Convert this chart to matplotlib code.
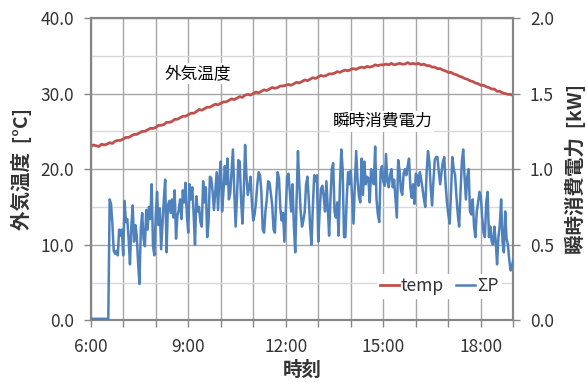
import numpy as np
import matplotlib
matplotlib.use("Agg")
import matplotlib.pyplot as plt
from matplotlib.ticker import MultipleLocator, FuncFormatter

plt.rcParams['font.family'] = ['Noto Sans CJK JP', 'DejaVu Sans']

# outdoor temperature, every 5 min from 6:00 to 19:00 [degC]
temp_c = [
    23.0, 23.2, 23.1, 23.0, 23.3, 23.2, 23.3, 23.5, 23.4, 23.7, 23.8, 23.8,
    24.0, 24.2, 24.2, 24.4, 24.6, 24.6, 24.8, 25.0, 25.0, 25.2, 25.4, 25.4,
    25.5, 25.8, 25.8, 25.9, 26.2, 26.2, 26.3, 26.6, 26.6, 26.8, 27.0, 27.0,
    27.2, 27.4, 27.4, 27.6, 27.9, 27.8, 28.0, 28.2, 28.2, 28.4, 28.6, 28.5,
    28.7, 28.9, 28.9, 29.1, 29.3, 29.2, 29.4, 29.6, 29.5, 29.8, 29.9, 29.8,
    30.0, 30.2, 30.1, 30.3, 30.5, 30.4, 30.6, 30.8, 30.7, 30.8, 31.0, 31.0,
    31.1, 31.2, 31.1, 31.3, 31.5, 31.4, 31.6, 31.8, 31.7, 31.9, 32.1, 32.0,
    32.2, 32.4, 32.3, 32.4, 32.6, 32.6, 32.7, 32.9, 32.8, 33.0, 33.1, 33.0,
    33.2, 33.3, 33.2, 33.4, 33.5, 33.4, 33.6, 33.5, 33.6, 33.8, 33.7, 33.8,
    33.8, 33.9, 33.8, 34.0, 33.8, 33.9, 34.0, 33.9, 33.9, 34.1, 33.9, 34.0,
    33.9, 34.0, 33.8, 33.9, 33.7, 33.7, 33.5, 33.5, 33.3, 33.3, 33.1, 33.0,
    32.8, 32.8, 32.6, 32.5, 32.3, 32.2, 32.0, 31.9, 31.7, 31.6, 31.4, 31.3,
    31.1, 31.1, 30.9, 30.8, 30.6, 30.6, 30.3, 30.3, 30.1, 30.0, 29.9, 29.9,
    29.7,
]

# instantaneous power, every 2.5 min from 6:00 to 19:00 [kW]
power_kw = [
    0.01, 0.01, 0.01, 0.01, 0.01, 0.01, 0.01, 0.01, 0.01, 0.01, 0.01, 0.01, 0.01, 0.01,
    0.80, 0.77, 0.64, 0.46, 0.44, 0.46, 0.43, 0.60, 0.56, 0.60,
    0.43, 0.79, 0.65, 0.67, 0.54, 0.37, 0.62, 0.76, 0.52, 0.63,
    0.56, 0.38, 0.24, 0.60, 0.71, 0.54, 0.49, 0.73, 0.60, 0.75,
    0.67, 0.90, 0.49, 0.43, 0.69, 0.85, 0.63, 0.74, 0.47, 0.63,
    0.80, 0.93, 0.45, 0.76, 0.79, 0.71, 0.80, 0.68, 0.86, 0.54,
    0.69, 0.73, 0.80, 0.67, 0.86, 0.78,
    0.91, 0.70, 0.58, 0.90, 0.80, 0.88, 0.70, 0.50, 0.82, 0.72,
    0.75, 0.65, 0.62, 0.92, 0.78, 0.88, 0.55, 0.65, 0.95, 0.94,
    0.85, 0.73, 0.86, 0.98, 0.73, 0.95, 1.05, 0.72, 0.85, 1.02,
    0.90, 1.07, 0.80, 0.84, 0.98, 1.13, 0.85, 0.62, 0.82, 1.06,
    1.05, 0.80, 0.64, 0.85, 1.16, 0.95, 0.83, 0.88, 0.95, 0.78,
    0.66, 0.70, 0.78, 0.90, 0.98, 0.96, 0.85, 0.60,
    0.58, 0.72, 0.80, 0.92, 0.91, 0.84, 0.76, 0.60, 0.58, 0.82,
    0.98, 0.94, 0.74, 0.66, 0.71, 0.52, 0.72, 0.95, 0.97, 0.85,
    0.72, 0.90, 0.62, 0.45, 0.80, 1.12, 0.90, 0.72, 0.62, 0.66,
    0.72, 0.90, 0.95, 0.80, 0.62, 0.50, 0.75, 0.96, 0.92, 0.96,
    0.52, 0.72, 0.87, 0.89, 0.82, 0.72, 0.92, 0.75, 0.56, 0.80,
    1.00, 1.04, 0.72, 0.68, 0.78, 0.56, 0.90, 1.13, 1.00,
    0.55, 0.55, 0.80, 0.98, 0.90, 0.99, 0.82, 0.64, 0.90, 1.12,
    0.93, 0.82, 0.78, 1.07, 0.83, 1.05, 0.90, 0.95, 0.94, 0.78,
    1.00, 0.92, 0.90, 1.15, 0.80, 0.70, 0.65, 0.98, 1.02, 0.92,
    0.89, 1.10, 0.92, 0.88, 0.96, 1.00, 0.88, 0.93, 0.80, 0.68,
    1.06, 0.99, 0.86, 0.83, 0.97, 1.00, 0.96, 1.02, 1.07, 0.88,
    0.81, 0.90, 0.77, 0.97, 0.96, 0.89, 0.98, 0.93, 0.87,
    0.80, 0.75, 0.98, 1.12, 1.05, 0.88, 0.76, 0.92, 1.06, 1.08,
    1.08, 0.98, 0.90, 0.98, 1.05, 1.08, 0.90, 0.78, 0.70, 0.64,
    0.85, 1.08, 1.00, 0.96, 0.82, 0.70, 0.62, 0.85, 1.05, 1.13,
    0.95, 0.80, 0.95, 1.00, 0.72, 0.70, 0.80, 0.62, 0.55, 0.72,
    0.78, 0.85, 0.82, 0.68, 0.58, 0.55, 0.78, 0.85, 0.55, 0.62,
    0.52, 0.50, 0.62, 0.52, 0.37, 0.55, 0.63, 0.80, 0.52, 0.45,
    0.72, 0.54, 0.50, 0.40, 0.33, 0.36, 0.40,
]

t_temp = 6 + np.arange(len(temp_c)) * 5 / 60
t_power = 6 + np.arange(len(power_kw)) * 2.5 / 60

RED = '#C0504D'
BLUE = '#4F81BD'
TXT = '#333333'

fig = plt.figure(figsize=(5.87, 3.83), dpi=100)
ax = fig.add_axes([0.1545, 0.1637, 0.72, 0.7893])
ax2 = ax.twinx()

l1, = ax.plot(t_temp, temp_c, color=RED, lw=2.0, label='temp', zorder=3)
l2, = ax2.plot(t_power, power_kw, color=BLUE, lw=1.8, label='ΣP', zorder=3)

ax.set_xlim(6, 19)
ax.set_ylim(0, 40)
ax2.set_ylim(0, 2.0)

ax.xaxis.set_major_locator(MultipleLocator(3))
ax.xaxis.set_minor_locator(MultipleLocator(1))
ax.xaxis.set_major_formatter(FuncFormatter(lambda v, p: '%d:00' % round(v)))
ax.yaxis.set_major_locator(MultipleLocator(10))
ax.yaxis.set_minor_locator(MultipleLocator(5))
ax.yaxis.set_major_formatter(FuncFormatter(lambda v, p: '%.1f' % v))
ax2.yaxis.set_major_locator(MultipleLocator(0.5))
ax2.yaxis.set_major_formatter(FuncFormatter(lambda v, p: '%.1f' % v))

ax.grid(which='major', axis='both', color='#a6a6a6', lw=1.0)
ax.grid(which='minor', axis='x', color='#a6a6a6', lw=1.0)
ax.grid(which='minor', axis='y', color='#d9d9d9', lw=1.0)
ax.set_axisbelow(True)

for a in (ax, ax2):
    for s in a.spines.values():
        s.set_color('#868686')
        s.set_linewidth(1.5)
    a.tick_params(which='both', direction='out', length=5, width=1,
                  color='#868686', labelsize=12.5, labelcolor=TXT, pad=7)
ax.tick_params(axis='y', which='minor', length=0)
ax.tick_params(axis='x', pad=8)

ax.set_xlabel('時刻', fontsize=14, fontweight='bold', color=TXT, labelpad=3)
ax.set_ylabel('外気温度  [°C]', fontsize=14, fontweight='bold', color=TXT, labelpad=6)
ax2.set_ylabel('瞬時消費電力  [kW]', fontsize=14, fontweight='bold', color=TXT,
               labelpad=8)

box = dict(facecolor='white', edgecolor='none', pad=1.5)
ax2.text(0.254, 0.815, '外気温度', transform=ax.transAxes, ha='center', va='center',
         fontsize=12, color='black', bbox=box, zorder=5)
ax2.text(0.69, 0.658, '瞬時消費電力', transform=ax.transAxes, ha='center',
         va='center', fontsize=12, color='black', bbox=box, zorder=5)

leg = ax2.legend(handles=[l1, l2], loc='center', bbox_to_anchor=(0.825, 0.113),
                 ncol=2, frameon=True, fontsize=12.5, handlelength=1.1,
                 handletextpad=0.1, columnspacing=0.7, borderpad=0.2)
leg.get_frame().set_edgecolor('none')
leg.get_frame().set_alpha(1)
for txt in leg.get_texts():
    txt.set_color(TXT)

fig.savefig('out.png', dpi=100)
